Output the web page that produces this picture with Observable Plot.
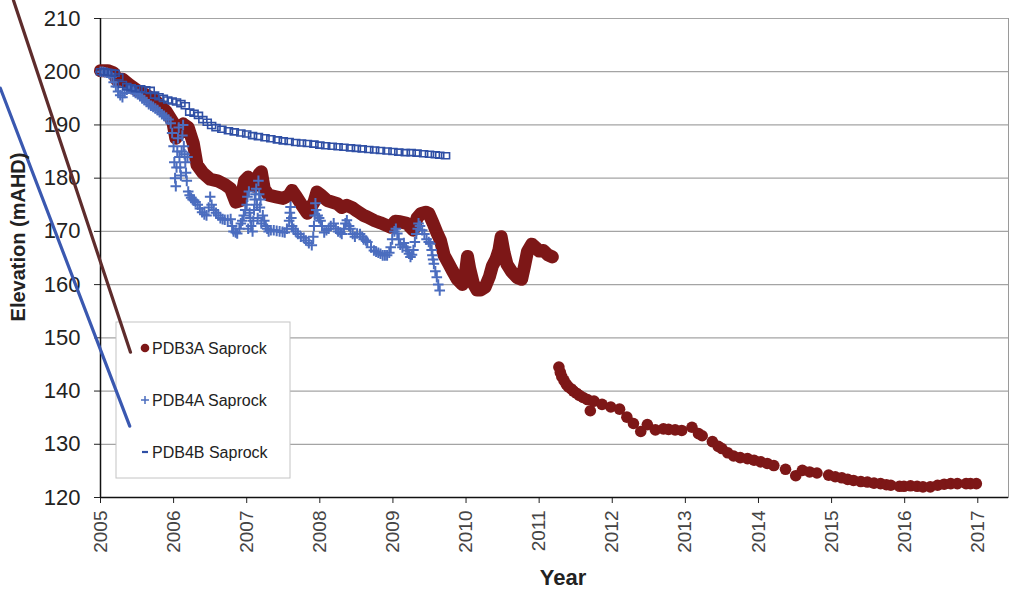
<!DOCTYPE html>
<html>
<head>
<meta charset="utf-8">
<script src="https://cdn.jsdelivr.net/npm/d3@7"></script>
<script src="https://cdn.jsdelivr.net/npm/@observablehq/plot@0.6"></script>
<style>
  html, body { margin: 0; padding: 0; background: #fff; }
  #chart { position: relative; width: 1034px; height: 595px; }
  svg { font-family: "Liberation Sans", Arial, sans-serif; }
</style>
</head>
<body>
<div id="chart"></div>
<script>
// ---------- data ----------
const yearTicks = [2005, 2006, 2007, 2008, 2009, 2010, 2011, 2012, 2013, 2014, 2015, 2016, 2017];
const elevTicks = [120, 130, 140, 150, 160, 170, 180, 190, 200, 210];

// PDB3A Saprock (2005 – early 2011, dense record)
const pdb3aEarlyYear = [2005.00,2005.10,2005.18,2005.22,2005.30,2005.40,2005.50,2005.60,2005.75,2005.90,2005.99,2006.03,2006.08,2006.13,2006.20,2006.27,2006.32,2006.40,2006.50,2006.60,2006.70,2006.78,2006.85,2006.92,2006.97,2007.02,2007.10,2007.17,2007.20,2007.24,2007.30,2007.40,2007.50,2007.58,2007.62,2007.68,2007.75,2007.83,2007.92,2007.96,2008.02,2008.10,2008.24,2008.30,2008.37,2008.45,2008.51,2008.60,2008.65,2008.75,2008.83,2008.90,2008.97,2009.03,2009.10,2009.19,2009.28,2009.33,2009.38,2009.45,2009.49,2009.55,2009.60,2009.65,2009.70,2009.76,2009.81,2009.88,2009.95,2009.99,2010.02,2010.05,2010.10,2010.15,2010.20,2010.26,2010.32,2010.36,2010.41,2010.45,2010.48,2010.52,2010.56,2010.62,2010.70,2010.76,2010.80,2010.84,2010.90,2010.95,2011.00,2011.06,2011.12,2011.18];
const pdb3aEarlyElev = [200.2,200.2,199.8,198.5,198.6,197.5,196.5,195.8,194.6,192.5,190.5,187.5,188.5,190.2,189.5,186.5,182.5,181.0,179.8,179.5,178.8,178.0,175.5,175.8,179.5,180.2,178.5,180.8,181.2,178.0,176.8,176.5,176.2,176.8,177.7,176.5,175.0,173.4,175.5,177.4,176.8,175.8,175.2,174.5,174.9,174.4,173.8,173.0,172.7,172.0,171.6,171.2,170.8,171.9,171.8,171.5,170.2,172.5,173.3,173.6,173.4,171.5,169.8,168.3,165.5,164.0,162.7,161.0,160.0,162.0,165.3,163.0,160.2,159.0,159.0,159.5,161.5,163.5,164.8,166.5,169.0,166.0,163.8,162.5,161.3,161.0,163.5,166.2,167.6,167.0,166.3,166.4,165.6,165.2];

// PDB3A Saprock (2011 – 2017, sparser record)
const pdb3aLateYear = [2011.27,2011.29,2011.31,2011.34,2011.37,2011.40,2011.44,2011.47,2011.51,2011.55,2011.60,2011.66,2011.70,2011.75,2011.86,2011.98,2012.10,2012.20,2012.29,2012.39,2012.48,2012.59,2012.70,2012.77,2012.86,2012.95,2013.09,2013.18,2013.23,2013.37,2013.45,2013.50,2013.58,2013.66,2013.75,2013.85,2013.94,2014.03,2014.12,2014.21,2014.37,2014.51,2014.60,2014.70,2014.80,2014.96,2015.05,2015.14,2015.22,2015.30,2015.40,2015.49,2015.58,2015.67,2015.75,2015.81,2015.93,2015.99,2016.08,2016.17,2016.25,2016.35,2016.45,2016.54,2016.63,2016.72,2016.84,2016.90,2016.98];
const pdb3aLateElev = [144.5,143.5,142.7,142.0,141.3,140.8,140.4,140.0,139.6,139.2,138.8,138.4,136.3,138.1,137.5,137.0,136.6,135.1,133.9,132.4,133.7,132.7,132.9,132.8,132.7,132.6,133.2,132.0,131.6,130.5,129.6,129.2,128.4,127.8,127.5,127.3,127.0,126.7,126.4,126.0,125.3,124.1,125.1,124.8,124.6,124.2,123.9,123.7,123.4,123.2,123.0,122.9,122.7,122.6,122.4,122.3,122.1,122.1,122.2,122.1,122.0,122.0,122.3,122.5,122.6,122.6,122.6,122.6,122.6];

// PDB4A Saprock
const pdb4aYear = [2005.00,2005.03,2005.06,2005.09,2005.12,2005.15,2005.18,2005.21,2005.24,2005.27,2005.30,2005.33,2005.36,2005.39,2005.42,2005.45,2005.48,2005.51,2005.54,2005.57,2005.60,2005.63,2005.66,2005.69,2005.72,2005.75,2005.78,2005.81,2005.84,2005.87,2005.90,2005.93,2005.96,2005.98,2006.00,2006.01,2006.02,2006.03,2006.04,2006.05,2006.06,2006.07,2006.08,2006.09,2006.10,2006.11,2006.12,2006.13,2006.14,2006.15,2006.16,2006.17,2006.18,2006.19,2006.20,2006.22,2006.24,2006.26,2006.28,2006.30,2006.33,2006.36,2006.39,2006.42,2006.45,2006.48,2006.50,2006.52,2006.55,2006.58,2006.61,2006.64,2006.67,2006.70,2006.74,2006.78,2006.80,2006.82,2006.85,2006.87,2006.90,2006.92,2006.94,2006.96,2006.98,2007.00,2007.01,2007.02,2007.03,2007.04,2007.05,2007.06,2007.08,2007.09,2007.10,2007.11,2007.12,2007.13,2007.14,2007.15,2007.16,2007.17,2007.18,2007.19,2007.20,2007.22,2007.24,2007.26,2007.28,2007.30,2007.33,2007.37,2007.41,2007.45,2007.49,2007.52,2007.55,2007.58,2007.59,2007.60,2007.61,2007.62,2007.64,2007.67,2007.70,2007.74,2007.78,2007.81,2007.85,2007.89,2007.91,2007.92,2007.93,2007.94,2007.95,2007.97,2007.99,2008.01,2008.03,2008.06,2008.09,2008.12,2008.15,2008.19,2008.22,2008.25,2008.28,2008.30,2008.33,2008.35,2008.37,2008.40,2008.42,2008.45,2008.48,2008.51,2008.55,2008.58,2008.60,2008.63,2008.65,2008.70,2008.74,2008.77,2008.80,2008.83,2008.86,2008.89,2008.92,2008.95,2008.97,2008.99,2009.02,2009.04,2009.06,2009.08,2009.10,2009.13,2009.15,2009.18,2009.20,2009.22,2009.24,2009.26,2009.28,2009.30,2009.32,2009.34,2009.35,2009.37,2009.40,2009.43,2009.46,2009.49,2009.51,2009.53,2009.54,2009.55,2009.56,2009.58,2009.60,2009.62,2009.64];
const pdb4aElev = [200.0,200.0,199.9,199.8,199.6,199.0,198.0,197.2,196.3,195.6,195.2,196.0,196.6,196.9,196.7,196.3,196.0,195.8,195.4,195.0,194.7,194.3,193.9,193.6,193.4,193.1,192.8,192.4,192.0,191.7,191.4,191.0,190.3,188.5,186.0,183.0,180.0,178.5,182.0,185.0,187.5,189.5,184.0,182.0,180.5,185.0,188.0,190.0,186.0,184.5,183.0,181.0,179.5,184.0,177.5,176.8,176.3,176.0,175.8,175.5,175.0,174.3,173.6,173.2,173.0,174.5,176.5,175.0,174.0,173.5,173.0,172.5,172.3,172.2,172.2,172.3,171.0,170.0,169.8,169.6,170.5,171.5,172.0,173.0,174.0,175.0,176.5,170.5,177.5,173.5,172.5,171.0,170.0,172.0,174.0,176.0,177.0,178.0,175.0,172.5,179.5,177.0,174.5,176.0,171.5,173.0,172.0,171.0,170.5,170.0,170.2,170.2,170.1,170.0,169.9,169.8,170.5,172.0,173.5,174.6,172.5,171.0,170.5,170.0,169.5,169.0,168.8,168.3,167.8,167.4,169.0,171.0,173.0,175.3,174.0,173.0,172.5,172.0,171.0,169.8,170.2,170.5,171.0,171.5,170.5,170.0,169.8,169.5,170.5,171.5,172.1,171.0,170.5,169.5,169.0,169.6,169.5,169.0,168.5,168.3,168.0,167.0,166.4,166.2,166.0,165.8,165.5,165.5,165.5,166.0,167.0,168.5,170.0,170.5,169.6,168.5,167.5,167.0,167.8,167.0,166.4,165.8,165.2,165.6,166.5,168.0,169.5,170.5,171.5,171.0,170.2,169.5,168.5,168.0,167.7,166.5,165.5,164.7,163.9,162.5,161.4,160.0,158.9];

// PDB4B Saprock
const pdb4bYear = [2005.00,2005.05,2005.10,2005.15,2005.20,2005.25,2005.30,2005.36,2005.42,2005.48,2005.55,2005.62,2005.68,2005.74,2005.80,2005.86,2005.92,2005.98,2006.04,2006.10,2006.16,2006.22,2006.28,2006.34,2006.40,2006.46,2006.52,2006.58,2006.66,2006.75,2006.83,2006.92,2007.00,2007.08,2007.16,2007.25,2007.33,2007.42,2007.50,2007.58,2007.67,2007.75,2007.83,2007.92,2008.00,2008.08,2008.17,2008.25,2008.33,2008.42,2008.50,2008.58,2008.67,2008.75,2008.83,2008.92,2009.00,2009.08,2009.17,2009.25,2009.33,2009.42,2009.50,2009.58,2009.64,2009.72];
const pdb4bElev = [200.0,200.0,199.9,199.8,199.7,199.0,197.6,197.2,197.0,196.8,196.8,196.6,196.5,195.6,195.3,195.0,194.7,194.5,194.3,194.0,193.6,192.4,192.2,191.8,191.0,190.5,189.9,189.5,189.2,188.9,188.7,188.5,188.3,188.0,187.8,187.6,187.4,187.2,187.0,186.9,186.7,186.6,186.5,186.4,186.2,186.1,186.0,185.9,185.8,185.7,185.6,185.5,185.4,185.3,185.2,185.1,185.0,184.9,184.8,184.8,184.7,184.6,184.5,184.4,184.3,184.2];

// stray trend lines drawn at the left of the original chart
const brownLineYear = [2003.81, 2005.41];
const brownLineElev = [213.4, 147.3];
const blueLineYear = [2003.63, 2005.40];
const blueLineElev = [196.9, 133.4];

const seriesNames = ["PDB3A Saprock", "PDB4A Saprock", "PDB4B Saprock"];

// ---------- build tables ----------
const zip = (xs, ys) => xs.map((x, i) => ({year: x, elev: ys[i]}));
const p3aEarly = zip(pdb3aEarlyYear, pdb3aEarlyElev);
const p3aLate = zip(pdb3aLateYear, pdb3aLateElev);
const p4a = zip(pdb4aYear, pdb4aElev);
const p4b = zip(pdb4bYear, pdb4bElev);
const brownLine = zip(brownLineYear, brownLineElev);
const blueLine = zip(blueLineYear, blueLineElev);

const RED = "#7d1717";
const PLUS_BLUE = "#4b6dbf";
const SQ_BLUE = "#2f4fa5";
const BROWN = "#5e2c2c";
const DIAG_BLUE = "#3a58b0";

const plusSymbol = {draw(ctx) { const r = 5.3; ctx.moveTo(-r, 0); ctx.lineTo(r, 0); ctx.moveTo(0, -r); ctx.lineTo(0, r); }};
const rectSymbol = {draw(ctx) { ctx.rect(-4, -3, 8, 6); }};

const chart = Plot.plot({
  width: 1034,
  height: 595,
  marginLeft: 100,
  marginRight: 26,
  marginTop: 18,
  marginBottom: 98,
  style: {fontFamily: '"Liberation Sans", Arial, sans-serif', fontSize: "21px", color: "#222", background: "white"},
  x: {domain: [2005, 2017.42], ticks: yearTicks, tickFormat: d => String(d), tickRotate: -90, tickSize: 6, tickPadding: 7, label: null},
  y: {domain: [120, 210], ticks: elevTicks, tickSize: 6, tickPadding: 14, label: null},
  marks: [
    Plot.frame({stroke: "#9a9a9a"}),
    Plot.ruleY(elevTicks, {stroke: "#a4a4a4", strokeWidth: 1.2}),
    Plot.ruleX([2005], {stroke: "#111", strokeWidth: 1.5}),
    Plot.ruleY([120], {stroke: "#111", strokeWidth: 1.5}),
    // PDB3A
    Plot.line(p3aEarly, {x: "year", y: "elev", stroke: RED, strokeWidth: 13, strokeLinecap: "round", strokeLinejoin: "round"}),
    Plot.dot(p3aLate, {x: "year", y: "elev", r: 5.8, fill: RED, stroke: "none"}),
    // PDB4A
    Plot.dot(p4a, {x: "year", y: "elev", symbol: plusSymbol, fill: "none", stroke: PLUS_BLUE, strokeWidth: 2}),
    // PDB4B
    Plot.dot(p4b, {x: "year", y: "elev", symbol: rectSymbol, fill: "none", stroke: SQ_BLUE, strokeWidth: 1.6}),
    // stray lines
    Plot.line(brownLine, {x: "year", y: "elev", stroke: BROWN, strokeWidth: 3.2}),
    Plot.line(blueLine, {x: "year", y: "elev", stroke: DIAG_BLUE, strokeWidth: 3.2})
  ]
});

document.getElementById("chart").appendChild(chart);
const svg = d3.select(chart);

// tick label styling
svg.selectAll('g[aria-label="x-axis tick label"], g[aria-label="x-axis tick label"] text')
  .attr("font-size", 19).attr("fill", "#444");
svg.selectAll('g[aria-label="y-axis tick label"], g[aria-label="y-axis tick label"] text')
  .attr("font-size", 22).attr("fill", "#222");

// legend (above the gridlines, below the stray lines)
const legend = svg.append("g")
  .attr("font-family", '"Liberation Sans", Arial, sans-serif')
  .attr("font-size", 16).attr("fill", "#222").attr("text-anchor", "start");
legend.append("rect").attr("x", 116).attr("y", 322).attr("width", 174).attr("height", 156)
  .attr("fill", "white").attr("stroke", "#c4c4c4").attr("stroke-width", 1);
const ly = [348, 400, 452];
legend.append("circle").attr("cx", 145).attr("cy", ly[0]).attr("r", 4.3).attr("fill", RED);
legend.append("path").attr("d", `M141,${ly[1]}h8M145,${ly[1]-4}v8`).attr("stroke", PLUS_BLUE).attr("stroke-width", 1.5);
legend.append("path").attr("d", `M142,${ly[2]}h6`).attr("stroke", SQ_BLUE).attr("stroke-width", 2.2);
seriesNames.forEach((n, i) => {
  legend.append("text").attr("x", 152).attr("y", ly[i]).attr("dy", "0.35em").attr("text-anchor", "start").text(n);
});
// bring the stray lines back on top of the legend box
svg.selectAll("g").filter(function() {
  const s = (this.getAttribute("stroke") || "").toLowerCase();
  return this.parentNode === chart && (s === BROWN || s === DIAG_BLUE);
}).raise();

// axis titles
svg.append("text").attr("transform", "translate(25,237) rotate(-90)")
  .attr("text-anchor", "middle").attr("font-weight", "bold").attr("font-size", 20).attr("fill", "#222")
  .text("Elevation (mAHD)");
svg.append("text").attr("x", 563).attr("y", 585)
  .attr("text-anchor", "middle").attr("font-weight", "bold").attr("font-size", 22).attr("fill", "#222")
  .text("Year");
</script>
</body>
</html>
